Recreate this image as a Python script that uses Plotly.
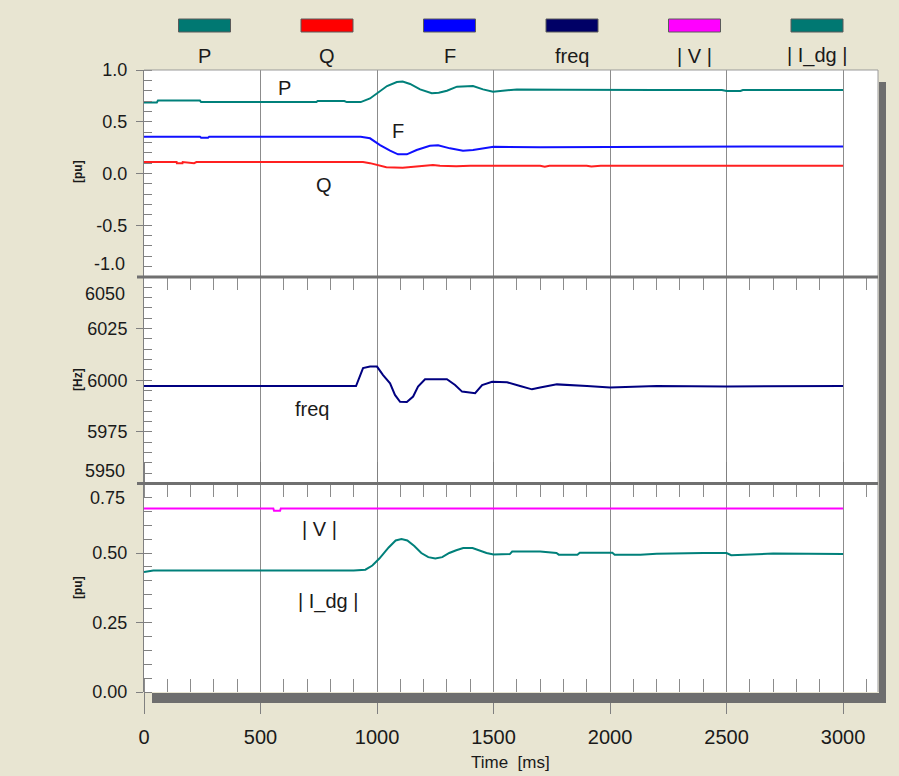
import plotly.graph_objects as go

# ---------------- data (time in ms) ----------------
t_P = [0, 55, 60, 240, 245, 740, 745, 860, 870, 930, 970, 1000, 1043, 1085, 1110, 1142, 1185, 1235, 1265,
       1300, 1343, 1412, 1455, 1498, 1557, 1600, 1800, 2000, 2200, 2480, 2500, 2560, 2570, 3000]
P = [0.685, 0.685, 0.705, 0.705, 0.69, 0.69, 0.70, 0.70, 0.69, 0.69, 0.725, 0.775, 0.845, 0.884, 0.888, 0.865,
     0.813, 0.775, 0.78, 0.80, 0.839, 0.845, 0.813, 0.79, 0.80, 0.812, 0.81, 0.807, 0.807, 0.807, 0.797, 0.797,
     0.807, 0.807]

t_F = [0, 240, 245, 275, 280, 930, 970, 1013, 1056, 1090, 1128, 1170, 1227, 1262, 1313, 1369, 1412, 1472,
       1500, 1700, 1800, 2000, 2600, 3000]
F = [0.356, 0.356, 0.345, 0.345, 0.356, 0.356, 0.34, 0.275, 0.22, 0.185, 0.185, 0.227, 0.268, 0.272, 0.243,
     0.22, 0.227, 0.253, 0.259, 0.253, 0.256, 0.256, 0.26, 0.26]

t_Q = [0, 140, 141, 165, 166, 215, 225, 940, 970, 1000, 1040, 1110, 1150, 1200, 1240, 1270, 1340, 1400, 1500,
       1700, 1720, 1740, 1900, 1920, 1960, 3000]
Q = [0.11, 0.11, 0.10, 0.10, 0.11, 0.10, 0.11, 0.11, 0.10, 0.08, 0.06, 0.055, 0.062, 0.075, 0.082, 0.075, 0.07,
     0.075, 0.075, 0.075, 0.065, 0.075, 0.075, 0.068, 0.075, 0.075]

t_freq = [0, 910, 940, 970, 1000, 1026, 1056, 1077, 1099, 1128, 1155, 1176, 1206, 1300, 1335, 1365, 1421, 1451,
          1494, 1558, 1614, 1665, 1700, 1772, 1901, 2000, 2200, 2500, 3000]
freq = [5997.2, 5997.2, 6005.9, 6006.6, 6006.6, 6002.5, 5998.5, 5992.9, 5989.6, 5989.5, 5992.1, 5996.9, 6000.5,
        6000.5, 5997.7, 5994.5, 5993.7, 5997.7, 5999.3, 5999.0, 5997.2, 5995.6, 5996.5, 5998.0, 5997.2, 5996.5,
        5997.2, 5997.0, 5997.2]

t_V = [0, 555, 558, 584, 587, 3000]
V = [0.66, 0.66, 0.652, 0.652, 0.66, 0.66]

t_I = [0, 40, 900, 950, 980, 1010, 1050, 1080, 1105, 1130, 1160, 1190, 1220, 1250, 1280, 1310, 1340, 1370, 1410,
       1440, 1470, 1500, 1570, 1580, 1700, 1770, 1780, 1860, 1870, 2010, 2020, 2130, 2200, 2400, 2500, 2520,
       2600, 2700, 3000]
I_dg = [0.432, 0.437, 0.437, 0.44, 0.455, 0.48, 0.52, 0.545, 0.55, 0.545, 0.525, 0.50, 0.485, 0.48, 0.485, 0.50,
        0.51, 0.518, 0.518, 0.51, 0.50, 0.495, 0.496, 0.505, 0.505, 0.50, 0.494, 0.494, 0.501, 0.501, 0.494,
        0.494, 0.497, 0.50, 0.50, 0.492, 0.495, 0.498, 0.496]

legend_names = ["P", "Q", "F", "freq", "| V |", "| I_dg |"]
legend_colors = ["#007872", "#FF0000", "#0000FF", "#000066", "#FF00FF", "#007872"]

x_ticks = [0, 500, 1000, 1500, 2000, 2500, 3000]
top_ticks = [1.0, 0.5, 0.0, -0.5]
top_labels = ["1.0", "0.5", "0.0", "-0.5"]
mid_ticks = [6025, 6000, 5975]
mid_labels = ["6025", "6000", "5975"]
bot_ticks = [0.5, 0.25, 0.0]
bot_labels = ["0.50", "0.25", "0.00"]

# ---------------- styling ----------------
W, H = 899, 776
FONT = "Liberation Sans Narrow, Arial Narrow, Liberation Sans, Arial, sans-serif"
BG = "#E8E5D2"
TEAL = "#00807A"
GRID = "#8C8C8C"
AX = "#808080"
SHADOW = "#6E6E6E"

X_LEFT, X_RIGHT = 144, 878
Y_TOP, Y_SEP1, Y_SEP2, Y_BOT = 70, 277, 483.5, 692


def px(x):
    return x / W


def py(y):
    return 1 - y / H


fig = go.Figure()
fig.add_trace(go.Scatter(x=t_P, y=P, xaxis="x", yaxis="y", mode="lines", line=dict(color=TEAL, width=2), name="P"))
fig.add_trace(go.Scatter(x=t_Q, y=Q, xaxis="x", yaxis="y", mode="lines", line=dict(color="#FF2020", width=2), name="Q"))
fig.add_trace(go.Scatter(x=t_F, y=F, xaxis="x", yaxis="y", mode="lines", line=dict(color="#1010FF", width=2), name="F"))
fig.add_trace(go.Scatter(x=t_freq, y=freq, xaxis="x2", yaxis="y2", mode="lines", line=dict(color="#000080", width=2), name="freq"))
fig.add_trace(go.Scatter(x=t_V, y=V, xaxis="x3", yaxis="y3", mode="lines", line=dict(color="#FF00FF", width=2), name="|V|"))
fig.add_trace(go.Scatter(x=t_I, y=I_dg, xaxis="x3", yaxis="y3", mode="lines", line=dict(color=TEAL, width=2), name="|I_dg|"))

tickfont = dict(family=FONT, size=18, color="#1a1a1a")
xtickfont = dict(family=FONT, size=20, color="#1a1a1a")
xdom = [px(X_LEFT), px(X_RIGHT)]
xcommon = dict(domain=xdom, range=[0, 3150], showgrid=True, gridcolor=GRID, gridwidth=1, tick0=0, dtick=500,
               zeroline=False, showline=False, fixedrange=True, automargin=False)
minor_x = dict(ticks="inside", ticklen=13, tickcolor=GRID, tickwidth=1, tickmode="linear", tick0=0, dtick=100,
               showgrid=False)

ycommon = dict(showline=True, linecolor=AX, linewidth=1, ticks="outside", ticklen=7, tickcolor=AX, tickwidth=1,
               showgrid=False, zeroline=False, tickfont=tickfont, tickmode="array", fixedrange=True,
               ticklabelstandoff=5, automargin=False)

fig.update_layout(
    width=W, height=H, margin=dict(l=0, r=0, t=0, b=0, pad=0), autosize=False,
    paper_bgcolor=BG, plot_bgcolor="white", showlegend=False,
    xaxis=dict(**xcommon, anchor="y", showticklabels=False, ticks=""),
    xaxis2=dict(**xcommon, anchor="y2", side="top", showticklabels=False, ticks="", minor=minor_x),
    xaxis3=dict(**xcommon, anchor="y3", ticks="outside", ticklen=21, tickcolor=AX, tickwidth=1,
                showticklabels=True, tickfont=xtickfont, mirror="ticks", minor=minor_x,
                tickvals=x_ticks, ticktext=[str(v) for v in x_ticks], tickmode="array", ticklabelstandoff=6),
    yaxis=dict(**ycommon, domain=[py(Y_SEP1), py(Y_TOP)], range=[-1, 1], anchor="x",
               tickvals=top_ticks, ticktext=top_labels,
               minor=dict(ticks="inside", ticklen=8, tickcolor=AX, tickmode="linear", tick0=0, dtick=0.1)),
    yaxis2=dict(**ycommon, domain=[py(Y_SEP2), py(Y_SEP1)], range=[5950, 6050], anchor="x2",
                tickvals=mid_ticks, ticktext=mid_labels,
                minor=dict(ticks="inside", ticklen=8, tickcolor=AX, tickmode="linear", tick0=5950, dtick=5)),
    yaxis3=dict(**ycommon, domain=[py(Y_BOT), py(Y_SEP2)], range=[0, 0.75], anchor="x3",
                tickvals=bot_ticks, ticktext=bot_labels,
                minor=dict(ticks="inside", ticklen=8, tickcolor=AX, tickmode="linear", tick0=0, dtick=0.05)),
)

shapes = []
# drop shadow (right and bottom)
shapes.append(dict(type="rect", xref="paper", yref="paper", x0=px(X_RIGHT + 1), x1=px(886), y0=py(703), y1=py(82),
                   fillcolor=SHADOW, line=dict(width=0), layer="above"))
shapes.append(dict(type="rect", xref="paper", yref="paper", x0=px(152), x1=px(886), y0=py(703), y1=py(Y_BOT + 1),
                   fillcolor=SHADOW, line=dict(width=0), layer="above"))
# light border top / right
shapes.append(dict(type="line", xref="paper", yref="paper", x0=px(X_LEFT), x1=px(X_RIGHT), y0=py(Y_TOP), y1=py(Y_TOP),
                   line=dict(color="#9a9a9a", width=1), layer="above"))
shapes.append(dict(type="line", xref="paper", yref="paper", x0=px(X_RIGHT), x1=px(X_RIGHT), y0=py(Y_TOP), y1=py(Y_BOT),
                   line=dict(color="#9a9a9a", width=1), layer="above"))
# thick separators between panels
for ys in (Y_SEP1, Y_SEP2):
    shapes.append(dict(type="line", xref="paper", yref="paper", x0=px(137), x1=px(X_RIGHT), y0=py(ys), y1=py(ys),
                       line=dict(color="#707070", width=3), layer="above"))

annotations = []
# legend
leg_x0, leg_step = 204.5, 122.5
for i, (name, col) in enumerate(zip(legend_names, legend_colors)):
    cx = leg_x0 + i * leg_step
    shapes.append(dict(type="rect", xref="paper", yref="paper", x0=px(cx - 26), x1=px(cx + 26), y0=py(32), y1=py(19),
                       fillcolor=col, line=dict(color="#5a5a5a", width=1)))
    annotations.append(dict(xref="paper", yref="paper", x=px(cx), y=py(56), text=name, showarrow=False,
                            xanchor="center", yanchor="middle", font=dict(family=FONT, size=20, color="#1a1a1a")))

# boundary tick labels (shifted inside the panels)
for txt, ypix in (("-1.0", 263.5), ("6050", 293.5), ("5950", 471.5), ("0.75", 497.5)):
    annotations.append(dict(xref="paper", yref="paper", x=px(127), y=py(ypix), text=txt, showarrow=False,
                            xanchor="right", yanchor="middle", font=tickfont))

# y-axis units
for txt, ypix in (("[pu]", 172), ("[Hz]", 380), ("[pu]", 588)):
    annotations.append(dict(xref="paper", yref="paper", x=px(78), y=py(ypix), text="<b>" + txt + "</b>",
                            showarrow=False, textangle=-90, xanchor="center", yanchor="middle",
                            font=dict(family="Liberation Sans, Arial, sans-serif", size=12, color="#1a1a1a")))

# x-axis title
annotations.append(dict(xref="paper", yref="paper", x=px(510), y=py(762), text="Time\u00a0\u00a0[ms]", showarrow=False,
                        xanchor="center", yanchor="middle", font=dict(family=FONT, size=17, color="#1a1a1a")))

# inline curve labels
lab_font = dict(family=FONT, size=20, color="#1a1a1a")
annotations += [
    dict(xref="x", yref="y", x=605, y=0.826, text="P", showarrow=False, font=lab_font),
    dict(xref="x", yref="y", x=1090, y=0.41, text="F", showarrow=False, font=lab_font),
    dict(xref="x", yref="y", x=773, y=-0.111, text="Q", showarrow=False, font=lab_font),
    dict(xref="x2", yref="y2", x=721, y=5986, text="freq", showarrow=False, font=lab_font),
    dict(xref="x3", yref="y3", x=755, y=0.588, text="| V |", showarrow=False, font=lab_font),
    dict(xref="x3", yref="y3", x=788, y=0.326, text="| I_dg |", showarrow=False, font=lab_font),
]

fig.update_layout(shapes=shapes, annotations=annotations)
fig.write_html("out.html", config=dict(displayModeBar=False))
